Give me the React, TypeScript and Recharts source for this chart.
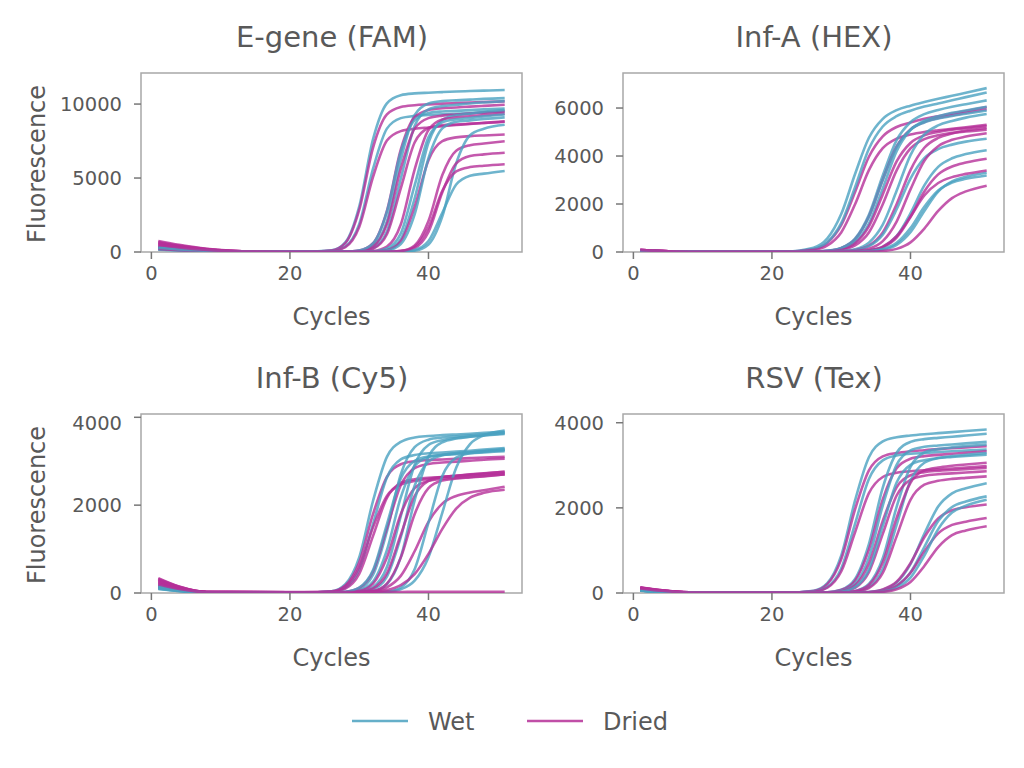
import React from "react";
import { LineChart, Line, XAxis, YAxis, ReferenceArea } from "recharts";

const CYCLES = [1, 4, 8, 15, 22, 26, 28, 30, 32, 34, 36, 38, 40, 42, 44, 46, 48, 51];
const X_TICKS = [0, 20, 40];

const EGENE_WET = [
  [300, 195, 85, 15, 10, 110, 650, 3070, 7630, 10050, 10600, 10720, 10770, 10810, 10850, 10880, 10910, 10950],
  [220, 145, 65, 12, 10, 64, 370, 1880, 5630, 8340, 9050, 9200, 9260, 9310, 9350, 9390, 9440, 9500],
  [350, 230, 100, 18, 8, 10, 20, 70, 410, 2080, 6240, 9250, 10040, 10200, 10250, 10300, 10350, 10400],
  [180, 120, 55, 12, 10, 10, 15, 40, 260, 1380, 4950, 8520, 9640, 9860, 9950, 10040, 10110, 10200],
  [260, 170, 75, 14, 10, 12, 20, 100, 580, 2730, 6770, 8920, 9400, 9500, 9540, 9590, 9640, 9700],
  [150, 100, 45, 10, 8, 8, 10, 10, 25, 150, 865, 3610, 7400, 8930, 9240, 9350, 9480, 9600],
  [320, 210, 95, 16, 10, 10, 10, 10, 35, 235, 1250, 4500, 7750, 8770, 8970, 9060, 9170, 9300],
  [240, 155, 70, 13, 10, 10, 10, 10, 15, 95, 545, 2550, 6350, 8360, 8810, 8900, 8990, 9100],
  [200, 130, 60, 12, 10, 10, 10, 10, 10, 10, 20, 90, 510, 2410, 5990, 7890, 8330, 8600],
  [280, 180, 80, 14, 8, 8, 8, 8, 10, 12, 20, 140, 740, 2650, 4560, 5160, 5300, 5480],
];
const EGENE_DRIED = [
  [750, 490, 220, 35, 12, 105, 600, 2840, 7060, 9300, 9800, 9920, 9980, 10030, 10070, 10110, 10140, 10180],
  [620, 400, 180, 30, 12, 58, 330, 1690, 5080, 7530, 8170, 8330, 8420, 8500, 8580, 8660, 8730, 8830],
  [520, 340, 150, 25, 12, 15, 20, 100, 590, 2780, 6920, 9110, 9600, 9720, 9770, 9830, 9880, 9950],
  [430, 280, 125, 22, 12, 12, 15, 65, 370, 1880, 5630, 8340, 9050, 9220, 9290, 9360, 9420, 9500],
  [350, 230, 100, 20, 12, 14, 15, 35, 225, 1200, 4300, 7400, 8380, 8570, 8620, 8670, 8720, 8800],
  [680, 440, 200, 32, 12, 15, 15, 20, 65, 365, 1860, 5570, 8250, 8950, 9100, 9180, 9250, 9350],
  [280, 180, 80, 18, 12, 12, 12, 12, 20, 125, 725, 3030, 6210, 7490, 7750, 7830, 7880, 7940],
  [580, 380, 170, 28, 12, 15, 15, 15, 15, 15, 75, 445, 2100, 5200, 6850, 7220, 7330, 7490],
  [200, 130, 60, 15, 12, 12, 12, 12, 12, 12, 45, 265, 1350, 4040, 5990, 6490, 6600, 6710],
  [470, 305, 140, 24, 12, 14, 14, 14, 14, 10, 60, 355, 1665, 4140, 5450, 5740, 5830, 5930],
];

const INFA_WET = [
  [55, 25, 8, 5, 15, 175, 565, 1580, 3250, 4760, 5550, 5910, 6100, 6250, 6385, 6510, 6640, 6830],
  [50, 24, 8, 5, 10, 125, 410, 1200, 2700, 4300, 5230, 5660, 5890, 6060, 6190, 6320, 6455, 6650],
  [60, 28, 9, 5, 5, 15, 50, 170, 555, 1550, 3190, 4660, 5410, 5745, 5920, 6055, 6160, 6320],
  [45, 22, 7, 5, 5, 10, 35, 120, 400, 1180, 2650, 4200, 5080, 5470, 5660, 5800, 5900, 6050],
  [55, 26, 8, 5, 5, 15, 47, 160, 525, 1470, 3010, 4380, 5100, 5400, 5560, 5670, 5760, 5900],
  [50, 24, 8, 5, 5, 5, 10, 35, 115, 390, 1140, 2550, 4040, 4900, 5275, 5460, 5600, 5750],
  [48, 23, 7, 5, 5, 5, 8, 20, 70, 240, 725, 1780, 3060, 3910, 4290, 4475, 4600, 4720],
  [52, 25, 8, 5, 5, 5, 5, 8, 20, 65, 215, 660, 1610, 2775, 3550, 3905, 4080, 4240],
  [50, 24, 8, 5, 5, 5, 5, 5, 8, 25, 90, 300, 830, 1710, 2515, 2940, 3135, 3300],
  [46, 22, 7, 5, 5, 5, 5, 5, 10, 35, 120, 380, 995, 1880, 2560, 2895, 3050, 3190],
];
const INFA_DRIED = [
  [80, 38, 10, 5, 10, 115, 380, 1115, 2500, 3970, 4820, 5210, 5400, 5550, 5660, 5770, 5880, 6040],
  [75, 35, 10, 5, 8, 80, 270, 815, 1990, 3410, 4325, 4725, 4895, 5000, 5070, 5130, 5195, 5300],
  [85, 40, 11, 5, 5, 15, 47, 160, 525, 1470, 3015, 4400, 5110, 5420, 5580, 5700, 5800, 5950],
  [78, 36, 10, 5, 5, 8, 30, 110, 365, 1070, 2400, 3775, 4545, 4865, 5005, 5100, 5160, 5250],
  [82, 38, 10, 5, 5, 8, 25, 80, 270, 815, 1990, 3405, 4315, 4705, 4865, 4966, 5020, 5100],
  [76, 35, 10, 5, 5, 5, 8, 25, 80, 270, 815, 1990, 3415, 4345, 4755, 4940, 5060, 5170],
  [80, 37, 10, 5, 5, 5, 5, 12, 40, 140, 455, 1270, 2610, 3800, 4410, 4675, 4810, 4950],
  [74, 34, 9, 5, 5, 5, 5, 8, 20, 60, 195, 600, 1460, 2520, 3235, 3565, 3730, 3890],
  [84, 39, 11, 5, 5, 5, 5, 8, 20, 70, 225, 660, 1475, 2355, 2875, 3120, 3255, 3400],
  [78, 36, 10, 5, 5, 5, 5, 5, 5, 12, 40, 130, 400, 975, 1710, 2245, 2525, 2765],
];

const INFB_WET = [
  [160, 72, 16, 15, 10, 40, 200, 810, 2100, 3100, 3440, 3540, 3575, 3595, 3610, 3625, 3645, 3670],
  [120, 55, 14, 14, 10, 26, 123, 530, 1575, 2630, 3040, 3140, 3180, 3200, 3220, 3240, 3265, 3300],
  [180, 80, 17, 15, 8, 8, 20, 95, 415, 1405, 2700, 3320, 3490, 3540, 3565, 3590, 3615, 3650],
  [100, 46, 13, 14, 10, 10, 12, 57, 260, 975, 2175, 2890, 3095, 3150, 3175, 3200, 3225, 3260],
  [140, 64, 15, 15, 10, 10, 10, 30, 135, 590, 1750, 2915, 3370, 3480, 3530, 3560, 3585, 3620],
  [170, 76, 16, 15, 10, 10, 10, 17, 85, 375, 1270, 2440, 2990, 3135, 3185, 3210, 3240, 3280],
  [110, 50, 13, 14, 10, 10, 10, 10, 40, 200, 815, 2110, 3100, 3430, 3515, 3560, 3590, 3640],
  [150, 68, 15, 15, 10, 10, 10, 10, 10, 25, 85, 280, 815, 1830, 2850, 3390, 3590, 3700],
  [130, 60, 14, 14, 10, 10, 10, 10, 12, 30, 125, 540, 1600, 2665, 3080, 3180, 3215, 3250],
  [90, 42, 12, 14, 10, 10, 28, 125, 525, 1565, 2605, 3010, 3110, 3140, 3160, 3180, 3200, 3230],
];
const INFB_DRIED = [
  [340, 150, 25, 20, 15, 36, 170, 695, 1800, 2645, 2930, 3000, 3025, 3040, 3055, 3070, 3085, 3100],
  [300, 135, 22, 20, 15, 30, 145, 580, 1500, 2210, 2470, 2550, 2600, 2640, 2670, 2700, 2725, 2760],
  [260, 115, 20, 18, 15, 21, 100, 435, 1300, 2165, 2505, 2590, 2620, 2640, 2660, 2680, 2700, 2720],
  [220, 100, 18, 18, 15, 15, 24, 115, 495, 1475, 2455, 2840, 2935, 2970, 2990, 3010, 3035, 3060],
  [180, 80, 16, 16, 15, 15, 15, 47, 215, 805, 1795, 2385, 2555, 2595, 2620, 2640, 2665, 2700],
  [320, 145, 24, 20, 15, 15, 15, 22, 105, 445, 1325, 2205, 2550, 2640, 2670, 2695, 2720, 2760],
  [140, 65, 15, 15, 15, 15, 15, 15, 38, 130, 390, 950, 1620, 2035, 2210, 2290, 2340, 2420],
  [280, 125, 21, 18, 15, 15, 15, 15, 47, 215, 805, 1795, 2385, 2560, 2605, 2630, 2655, 2700],
  [240, 108, 19, 18, 15, 15, 15, 15, 25, 68, 180, 430, 890, 1460, 1920, 2170, 2280, 2350],
  [200, 90, 17, 22, 20, 22, 20, 24, 22, 25, 24, 26, 25, 28, 27, 30, 28, 30],
];

const RSV_WET = [
  [60, 30, 10, 8, 8, 52, 230, 875, 2175, 3190, 3560, 3660, 3700, 3730, 3755, 3780, 3805, 3840],
  [55, 28, 9, 8, 8, 32, 143, 575, 1625, 2680, 3115, 3230, 3270, 3290, 3310, 3330, 3345, 3370],
  [65, 32, 10, 8, 8, 8, 17, 76, 330, 1150, 2475, 3295, 3550, 3615, 3645, 3670, 3700, 3740],
  [58, 29, 9, 8, 8, 8, 10, 50, 215, 830, 2055, 3010, 3350, 3435, 3465, 3490, 3515, 3550],
  [62, 31, 10, 8, 8, 8, 8, 10, 49, 215, 815, 2025, 2965, 3300, 3380, 3420, 3450, 3490],
  [57, 28, 9, 8, 8, 8, 8, 10, 31, 140, 565, 1600, 2635, 3060, 3170, 3215, 3245, 3290],
  [63, 31, 10, 8, 8, 8, 10, 31, 140, 555, 1575, 2595, 3010, 3120, 3170, 3195, 3220, 3250],
  [59, 29, 9, 8, 8, 8, 8, 8, 10, 22, 75, 245, 680, 1390, 2030, 2340, 2460, 2580],
  [61, 30, 10, 8, 8, 8, 8, 8, 8, 15, 50, 165, 480, 1080, 1690, 2020, 2150, 2270],
  [56, 28, 9, 8, 8, 8, 8, 8, 8, 10, 35, 120, 360, 880, 1500, 1890, 2050, 2190],
];
const RSV_DRIED = [
  [130, 65, 16, 10, 10, 47, 210, 790, 1965, 2880, 3210, 3290, 3330, 3355, 3380, 3400, 3420, 3450],
  [120, 60, 15, 10, 10, 28, 125, 505, 1425, 2345, 2725, 2825, 2860, 2885, 2905, 2925, 2950, 2980],
  [110, 55, 14, 10, 10, 10, 15, 68, 290, 1020, 2200, 2930, 3155, 3215, 3245, 3270, 3295, 3330],
  [100, 50, 12, 10, 10, 10, 10, 41, 180, 685, 1695, 2485, 2765, 2840, 2870, 2890, 2910, 2940],
  [90, 45, 11, 10, 10, 10, 10, 27, 122, 490, 1390, 2290, 2660, 2755, 2790, 2810, 2830, 2860],
  [135, 68, 16, 10, 10, 10, 10, 10, 42, 187, 715, 1765, 2590, 2880, 2950, 2990, 3020, 3060],
  [80, 40, 10, 10, 10, 10, 10, 10, 26, 117, 470, 1330, 2190, 2545, 2635, 2680, 2705, 2740],
  [125, 62, 15, 10, 10, 10, 10, 10, 10, 25, 85, 265, 700, 1310, 1750, 1945, 2015, 2080],
  [115, 58, 14, 10, 10, 10, 10, 10, 10, 15, 52, 170, 475, 975, 1400, 1600, 1675, 1760],
  [105, 52, 13, 10, 10, 10, 10, 10, 10, 10, 26, 86, 260, 635, 1080, 1360, 1470, 1570],
];

const FONT = '"DejaVu Sans", Verdana, sans-serif';
const TEXT = "#595959";
const WET = "#4aa1c0";
const DRIED = "#b52f98";

// plot box geometry (px inside the 1024x768 page)
const BOX_W = 381;
const BOX_H = 179;
const Y_AXIS_W = 80;

function Panel({ wet, dried, yMax, yTicks, left, top }: any) {
  const rows = CYCLES.map((cycle, i) => {
    const r: Record<string, number> = { cycle };
    wet.forEach((s: number[], k: number) => (r[`w${k}`] = s[i]));
    dried.forEach((s: number[], k: number) => (r[`d${k}`] = s[i]));
    return r;
  });
  const keys: string[] = [];
  wet.forEach((_: any, k: number) => {
    keys.push(`w${k}`);
    keys.push(`d${k}`);
  });

  return (
    <div style={{ position: "absolute", left: left - Y_AXIS_W, top: top - 2 }}>
      <LineChart
        width={Y_AXIS_W + BOX_W + 2}
        height={BOX_H + 2 + 40}
        data={rows}
        margin={{ top: 2, right: 2, bottom: 0, left: 0 }}
      >
        <XAxis
          type="number"
          dataKey="cycle"
          domain={[-1.5, 53.5]}
          ticks={X_TICKS}
          axisLine={false}
          tickLine={{ stroke: "#777", strokeWidth: 1.5 }}
          tickSize={7}
          tickMargin={7}
          height={40}
          tick={{ fill: TEXT, fontSize: 19.5, fontFamily: FONT }}
          allowDataOverflow
        />
        <YAxis
          type="number"
          domain={[0, yMax]}
          ticks={yTicks}
          axisLine={false}
          tickLine={{ stroke: "#777", strokeWidth: 1.5 }}
          tickSize={7}
          tickMargin={12}
          width={Y_AXIS_W}
          tick={{ fill: TEXT, fontSize: 19.5, fontFamily: FONT }}
          allowDataOverflow
        />
        {keys.map((key) => (
          <Line
            key={key}
            type="monotone"
            dataKey={key}
            stroke={key[0] === "w" ? WET : DRIED}
            strokeOpacity={0.8}
            strokeWidth={2.6}
            dot={false}
            activeDot={false}
            isAnimationActive={false}
          />
        ))}
        <ReferenceArea
          x1={-1.5}
          x2={53.5}
          y1={0}
          y2={yMax}
          fill="none"
          stroke="#a8a8a8"
          strokeWidth={1.5}
        />
      </LineChart>
    </div>
  );
}

export default function App() {
  return (
    <div
      style={{
        position: "absolute",
        left: 0,
        top: 0,
        width: 1024,
        height: 768,
        background: "#fff",
        fontFamily: FONT,
      }}
    >
      <Panel wet={EGENE_WET} dried={EGENE_DRIED} yMax={12100} yTicks={[0, 5000, 10000]} left={141} top={73} />
      <Panel wet={INFA_WET} dried={INFA_DRIED} yMax={7460} yTicks={[0, 2000, 4000, 6000]} left={623} top={73} />
      <Panel wet={INFB_WET} dried={INFB_DRIED} yMax={4075} yTicks={[0, 2000, 4000]} left={141} top={414} />
      <Panel wet={RSV_WET} dried={RSV_DRIED} yMax={4205} yTicks={[0, 2000, 4000]} left={623} top={414} />

      <svg
        width={1024}
        height={768}
        style={{ position: "absolute", left: 0, top: 0, pointerEvents: "none" }}
        fontFamily={FONT}
        fill={TEXT}
      >
        <text x={332} y={47} fontSize={29} textAnchor="middle">E-gene (FAM)</text>
        <text x={814} y={47} fontSize={29} textAnchor="middle">Inf-A (HEX)</text>
        <text x={332} y={388} fontSize={29} textAnchor="middle">Inf-B (Cy5)</text>
        <text x={814} y={388} fontSize={29} textAnchor="middle">RSV (Tex)</text>

        <text x={331.5} y={325} fontSize={24} textAnchor="middle">Cycles</text>
        <text x={813.5} y={325} fontSize={24} textAnchor="middle">Cycles</text>
        <text x={331.5} y={666} fontSize={24} textAnchor="middle">Cycles</text>
        <text x={813.5} y={666} fontSize={24} textAnchor="middle">Cycles</text>

        <text x={45} y={164} fontSize={24} textAnchor="middle" transform="rotate(-90 45 164)">Fluorescence</text>
        <text x={45} y={505} fontSize={24} textAnchor="middle" transform="rotate(-90 45 505)">Fluorescence</text>

        <line x1={352} y1={721} x2={408} y2={721} stroke={WET} strokeOpacity={0.85} strokeWidth={2.5} />
        <text x={428} y={730} fontSize={24}>Wet</text>
        <line x1={527} y1={721} x2={583} y2={721} stroke={DRIED} strokeOpacity={0.85} strokeWidth={2.5} />
        <text x={603} y={730} fontSize={24}>Dried</text>
      </svg>
    </div>
  );
}
